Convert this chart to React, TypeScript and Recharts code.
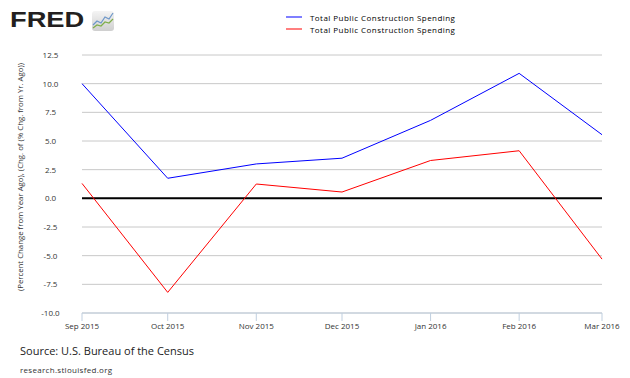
import React from 'react';
import {
  LineChart,
  Line,
  XAxis,
  YAxis,
  CartesianGrid,
  ReferenceLine,
  Legend,
} from 'recharts';

const dates = ['2015-09-01', '2015-10-01', '2015-11-01', '2015-12-01', '2016-01-01', '2016-02-01', '2016-03-01'];
const monthLabels = ['Sep 2015', 'Oct 2015', 'Nov 2015', 'Dec 2015', 'Jan 2016', 'Feb 2016', 'Mar 2016'];
const pctChange = [10.0, 1.75, 3.0, 3.5, 6.8, 10.9, 5.55];
const chgOfPctChange = [1.3, -8.2, 1.25, 0.55, 3.3, 4.15, -5.3];
const yTicks = [-10, -7.5, -5, -2.5, 0, 2.5, 5, 7.5, 10, 12.5];

const seriesName = 'Total Public Construction Spending';

const times = dates.map((d) => Date.parse(d + 'T00:00:00Z'));
const data = times.map((t, i) => ({
  t,
  a: pctChange[i],
  b: chgOfPctChange[i],
}));

const font = '"Open Sans", sans-serif';

const YTick = ({ y, payload }: any) => (
  <text x={50.5} y={y} dy={3} textAnchor="middle" fontSize={8} fill="#333" fontFamily={font}>
    {payload.value.toFixed(1)}
  </text>
);

const LegendBox = ({ payload }: any) => (
  <div style={{ fontFamily: font, fontSize: 8, color: '#000' }}>
    {(payload || []).map((p: any) => (
      <div key={p.dataKey} style={{ display: 'flex', alignItems: 'center', height: 12 }}>
        <span
          style={{
            display: 'inline-block',
            width: 16,
            height: 2,
            background: p.dataKey === 'a' ? '#7f7fff' : '#ff7f7f',
            marginRight: 8,
          }}
        />
        <span style={{ letterSpacing: 0.45 }}>{p.value}</span>
      </div>
    ))}
  </div>
);

const FredLogo = () => (
  <div style={{ position: 'absolute', left: 10, top: 8, display: 'flex', alignItems: 'flex-start' }}>
    <span
      style={{
        fontFamily: '"Liberation Sans", Arial, sans-serif',
        fontWeight: 900,
        fontSize: 22,
        lineHeight: '24px',
        color: '#231f20',
        display: 'inline-block',
        transform: 'scaleX(1.24)',
        transformOrigin: 'left top',
      }}
    >
      FRED
    </span>
    <svg width={22} height={20} style={{ position: 'absolute', left: 82, top: 3 }}>
      <defs>
        <linearGradient id="lg" x1="0" y1="0" x2="0" y2="1">
          <stop offset="0" stopColor="#f4f4f4" />
          <stop offset="1" stopColor="#cfcfcf" />
        </linearGradient>
      </defs>
      <rect x={0} y={0} width={22} height={20} rx={3} fill="url(#lg)" />
      <polyline points="1,14 5,10 9,12 13,6 17,8 21,2" fill="none" stroke="#6d97c9" strokeWidth={1.2} />
      <polyline points="1,17 5,14 9,15 13,11 17,12 21,8" fill="none" stroke="#7fae4a" strokeWidth={1.2} />
    </svg>
  </div>
);

export default function App() {
  return (
    <div style={{ position: 'absolute', left: 0, top: 0, width: 630, height: 378, background: '#fff', fontFamily: font }}>
      <FredLogo />
      <LineChart width={630} height={378} data={data} margin={{ top: 55, right: 28, left: 22, bottom: 35 }}>
        <CartesianGrid vertical={false} stroke="#c8c8c8" />
        <XAxis
          dataKey="t"
          type="number"
          domain={[times[0], times[times.length - 1]]}
          ticks={times}
          tickFormatter={(v: number) => monthLabels[times.indexOf(v)]}
          height={30}
          tickSize={8}
          stroke="#c0cfdf"
          tick={{ fontSize: 8, fill: '#333', fontFamily: font }}
        />
        <YAxis
          width={60}
          domain={[-10, 12.5]}
          ticks={yTicks}
          axisLine={false}
          tickLine={false}
          tick={<YTick />}
        />
        <ReferenceLine y={0} stroke="#000" strokeWidth={2} />
        <Legend
          layout="vertical"
          align="center"
          verticalAlign="middle"
          wrapperStyle={{ top: 11, left: 286, width: 'auto' }}
          content={<LegendBox />}
        />
        <Line type="linear" dataKey="a" name={seriesName} stroke="#0000ff" strokeWidth={1} dot={false} isAnimationActive={false} />
        <Line type="linear" dataKey="b" name={seriesName} stroke="#ff0000" strokeWidth={1} dot={false} isAnimationActive={false} />
      </LineChart>
      <div
        style={{
          position: 'absolute',
          left: 19.5,
          top: 177,
          transform: 'translate(-50%, -50%) rotate(-90deg)',
          whiteSpace: 'nowrap',
          fontSize: 7.8,
          color: '#333',
        }}
      >
        (Percent Change from Year Ago), (Chg. of (% Chg. from Yr. Ago))
      </div>
      <div style={{ position: 'absolute', left: 20, top: 343, fontSize: 11, color: '#222' }}>
        Source: U.S. Bureau of the Census
      </div>
      <div style={{ position: 'absolute', left: 20, top: 364, fontSize: 8, color: '#333', letterSpacing: 0.3 }}>
        research.stlouisfed.org
      </div>
    </div>
  );
}
